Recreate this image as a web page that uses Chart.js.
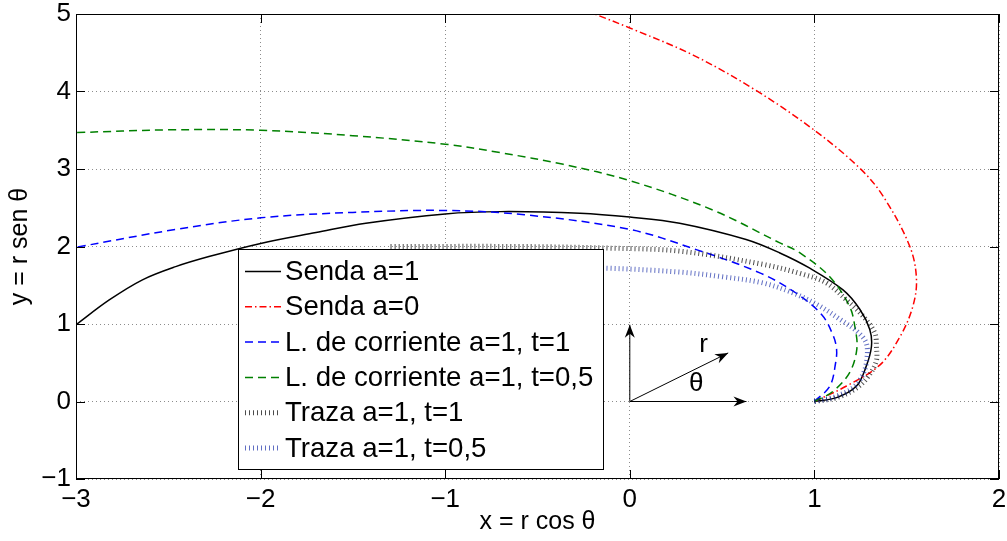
<!DOCTYPE html>
<html>
<head>
<meta charset="utf-8">
<script src="https://cdn.jsdelivr.net/npm/chart.js@4.4.1/dist/chart.umd.min.js"></script>
<style>
  html, body { margin: 0; padding: 0; background: #fff; }
</style>
</head>
<body>
<canvas id="flowChart" width="1007" height="541"></canvas>
<script>
// Senda a=1
let sendaA1X = [1, 1.12, 1.228, 1.28, 1.309, 1.30, 1.246, 1.155, 0.975, 0.81, 0.63, 0.27, 0, -0.27, -0.70, -1.0, -1.43, -1.7, -2.0, -2.28, -2.46, -2.64, -2.82, -3.0];
let sendaA1Y = [0, 0.05, 0.20, 0.45, 0.71, 0.93, 1.19, 1.44, 1.72, 1.92, 2.09, 2.30, 2.38, 2.43, 2.45, 2.42, 2.30, 2.18, 2.04, 1.87, 1.74, 1.57, 1.31, 0.99];
// Senda a=0
let sendaA0X = [1, 1.174, 1.354, 1.46, 1.53, 1.553, 1.517, 1.372, 1.246, 1.0, 0.686, 0.343, 0, -0.19];
let sendaA0Y = [0, 0.2, 0.47, 0.82, 1.2, 1.57, 2.0, 2.65, 3.01, 3.5, 4.01, 4.47, 4.82, 5.0];
// L. de corriente a=1, t=1
let corrT1X = [1, 1.084, 1.115, 1.12, 1.10, 1.04, 0.90, 0.704, 0.36, 0, -0.57, -1.0, -1.5, -2.0, -2.46, -3.0];
let corrT1Y = [0, 0.20, 0.50, 0.68, 0.86, 1.12, 1.40, 1.66, 1.96, 2.22, 2.41, 2.465, 2.44, 2.37, 2.22, 1.99];
// L. de corriente a=1, t=0,5
let corrT05X = [1, 1.10, 1.19, 1.23, 1.219, 1.19, 1.083, 0.92, 0.81, 0.45, 0, -0.36, -0.70, -1.0, -1.5, -2.0, -2.5, -3.0];
let corrT05Y = [0, 0.13, 0.37, 0.68, 0.97, 1.23, 1.61, 1.92, 2.05, 2.47, 2.85, 3.06, 3.21, 3.32, 3.43, 3.50, 3.505, 3.47];
// Traza a=1, t=1
let trazaT1X = [1, 1.12, 1.22, 1.29, 1.335, 1.336, 1.327, 1.264, 1.174, 1.065, 0.94, 0.72, 0.27, -0.126, -0.6, -1.3];
let trazaT1Y = [0, 0.05, 0.16, 0.32, 0.52, 0.71, 0.885, 1.10, 1.31, 1.53, 1.64, 1.77, 1.94, 1.98, 2.0, 2.0];
// Traza a=1, t=0,5
let trazaT05X = [1, 1.11, 1.21, 1.265, 1.285, 1.28, 1.228, 1.138, 1.03, 0.885, 0.72, 0.5, 0.27, -0.126, -0.6, -1.3];
let trazaT05Y = [0, 0.06, 0.18, 0.36, 0.56, 0.76, 0.91, 1.06, 1.23, 1.40, 1.53, 1.61, 1.67, 1.72, 1.73, 1.73];

let seriesLabels = ['Senda a=1', 'Senda a=0', 'L. de corriente a=1, t=1', 'L. de corriente a=1, t=0,5', 'Traza a=1, t=1', 'Traza a=1, t=0,5'];
let xTicks = [-3, -2, -1, 0, 1, 2];
let yTicks = [-1, 0, 1, 2, 3, 4, 5];

// sketch of the polar axes near the origin
let arrowOrigin = [0, 0];
let arrowTipX = [0.632, 0, 0.533];
let arrowTipY = [0, 0.99, 0.627];
let sketchLabels = ['r', 'θ'];
let sketchLabelX = [0.40, 0.36];
let sketchLabelY = [0.735, 0.23];

const FONT = 'Liberation Sans, Arial, Helvetica, sans-serif';

function pts(xs, ys) {
  return xs.map((x, i) => ({ x: x, y: ys[i] }));
}

function minus(v) {
  return String(v).replace('-', '\u2212');
}

function arrowHead(ctx, ox, oy, px, py) {
  const ang = Math.atan2(py - oy, px - ox);
  const c = Math.cos(ang), s = Math.sin(ang);
  ctx.beginPath();
  ctx.moveTo(px, py);
  ctx.lineTo(px - 13 * c + 5 * s, py - 13 * s - 5 * c);
  ctx.lineTo(px - 9 * c, py - 9 * s);
  ctx.lineTo(px - 13 * c - 5 * s, py - 13 * s + 5 * c);
  ctx.closePath();
  ctx.fill();
}

const decorations = {
  id: 'decorations',
  afterDatasetsDraw(chart) {
    const ctx = chart.ctx;
    const xs = chart.scales.x, ys = chart.scales.y;
    const a = chart.chartArea;
    ctx.save();

    // arrows r, theta
    ctx.strokeStyle = '#000';
    ctx.fillStyle = '#000';
    ctx.lineWidth = 1;
    const ox = xs.getPixelForValue(arrowOrigin[0]);
    const oy = ys.getPixelForValue(arrowOrigin[1]);
    arrowTipX.forEach((tx, i) => {
      const px = xs.getPixelForValue(tx);
      const py = ys.getPixelForValue(arrowTipY[i]);
      ctx.beginPath();
      ctx.moveTo(ox, oy);
      ctx.lineTo(px, py);
      ctx.stroke();
      arrowHead(ctx, ox, oy, px, py);
    });
    ctx.font = '26px ' + FONT;
    ctx.textAlign = 'center';
    ctx.textBaseline = 'middle';
    sketchLabels.forEach((t, i) => {
      ctx.fillText(t, xs.getPixelForValue(sketchLabelX[i]), ys.getPixelForValue(sketchLabelY[i]));
    });

    // legend box
    const lx = a.left + 162, ly = a.top + 235, lw = 365, lh = 220;
    ctx.fillStyle = '#fff';
    ctx.fillRect(lx, ly, lw, lh);
    ctx.strokeStyle = '#000';
    ctx.lineWidth = 1;
    ctx.strokeRect(lx + 0.5, ly + 0.5, lw, lh);
    ctx.font = '27.6px ' + FONT;
    ctx.textAlign = 'left';
    ctx.textBaseline = 'middle';
    chart.data.datasets.forEach((ds, i) => {
      const ry = ly + 22.5 + i * 35.3;
      ctx.save();
      ctx.strokeStyle = ds.borderColor;
      ctx.lineWidth = ds.borderWidth;
      ctx.setLineDash(ds.borderDash || []);
      ctx.beginPath();
      ctx.moveTo(lx + 7, ry);
      ctx.lineTo(lx + 43, ry);
      ctx.stroke();
      ctx.restore();
      ctx.fillStyle = '#000';
      ctx.fillText(ds.label, lx + 47, ry + 1);
    });

    // axes frame with inward ticks
    ctx.strokeStyle = '#000';
    ctx.lineWidth = 1;
    ctx.setLineDash([]);
    ctx.strokeRect(a.left + 0.5, a.top + 0.5, a.right - a.left - 1, a.bottom - a.top - 1);
    ctx.beginPath();
    xTicks.forEach(v => {
      const px = Math.round(xs.getPixelForValue(v)) + 0.5;
      ctx.moveTo(px, a.bottom);
      ctx.lineTo(px, a.bottom - 9);
      ctx.moveTo(px, a.top);
      ctx.lineTo(px, a.top + 9);
    });
    yTicks.forEach(v => {
      const py = Math.round(ys.getPixelForValue(v)) + 0.5;
      ctx.moveTo(a.left, py);
      ctx.lineTo(a.left + 9, py);
      ctx.moveTo(a.right, py);
      ctx.lineTo(a.right - 9, py);
    });
    ctx.stroke();
    ctx.restore();
  }
};

const gridStyle = { color: 'rgba(0,0,0,0.45)', lineWidth: 1, drawTicks: false };
const borderStyle = { display: false, dash: [1, 3] };

let flowChart = new Chart(document.getElementById('flowChart'), {
  type: 'scatter',
  data: {
    datasets: [
      { label: seriesLabels[0], data: pts(sendaA1X, sendaA1Y), borderColor: '#000000', borderWidth: 1.5, order: 6 },
      { label: seriesLabels[1], data: pts(sendaA0X, sendaA0Y), borderColor: '#ff0000', borderWidth: 1.5, borderDash: [7, 3, 1.5, 3], order: 5 },
      { label: seriesLabels[2], data: pts(corrT1X, corrT1Y), borderColor: '#0000ff', borderWidth: 1.5, borderDash: [8, 5], order: 4 },
      { label: seriesLabels[3], data: pts(corrT05X, corrT05Y), borderColor: '#008000', borderWidth: 1.5, borderDash: [8, 5], order: 3 },
      { label: seriesLabels[4], data: pts(trazaT1X, trazaT1Y), borderColor: 'rgba(0,0,0,0.7)', borderWidth: 5, borderDash: [1, 3], order: 2 },
      { label: seriesLabels[5], data: pts(trazaT05X, trazaT05Y), borderColor: 'rgba(30,50,170,0.7)', borderWidth: 5, borderDash: [1, 3], order: 1 },
    ],
  },
  options: {
    responsive: false,
    animation: false,
    showLine: true,
    layout: { padding: { top: 14, right: 8, left: 0, bottom: 0 } },
    elements: {
      point: { radius: 0, hoverRadius: 0 },
      line: { tension: 0.35, fill: false, borderCapStyle: 'butt' },
    },
    plugins: {
      legend: { display: false },
      tooltip: { enabled: false },
    },
    scales: {
      x: {
        type: 'linear',
        min: -3,
        max: 2,
        afterBuildTicks: s => { s.ticks = xTicks.map(v => ({ value: v })); },
        afterFit: s => { s.height = 62; s.paddingLeft = 0; s.paddingRight = 0; },
        ticks: { color: '#000', font: { family: FONT, size: 26 }, padding: 5, callback: minus, maxRotation: 0 },
        grid: gridStyle,
        border: borderStyle,
        title: { display: true, text: 'x = r cos θ', color: '#000', font: { family: FONT, size: 25 }, padding: { top: 0, bottom: 4 } },
      },
      y: {
        type: 'linear',
        min: -1,
        max: 5,
        afterBuildTicks: s => { s.ticks = yTicks.map(v => ({ value: v })); },
        afterFit: s => { s.width = 76; s.paddingTop = 0; s.paddingBottom = 0; },
        ticks: { color: '#000', font: { family: FONT, size: 26 }, padding: 5, callback: minus },
        grid: gridStyle,
        border: borderStyle,
        title: { display: true, text: 'y = r sen θ', color: '#000', font: { family: FONT, size: 25 }, padding: { top: 5, bottom: 0 } },
      },
    },
  },
  plugins: [decorations],
});
</script>
</body>
</html>
